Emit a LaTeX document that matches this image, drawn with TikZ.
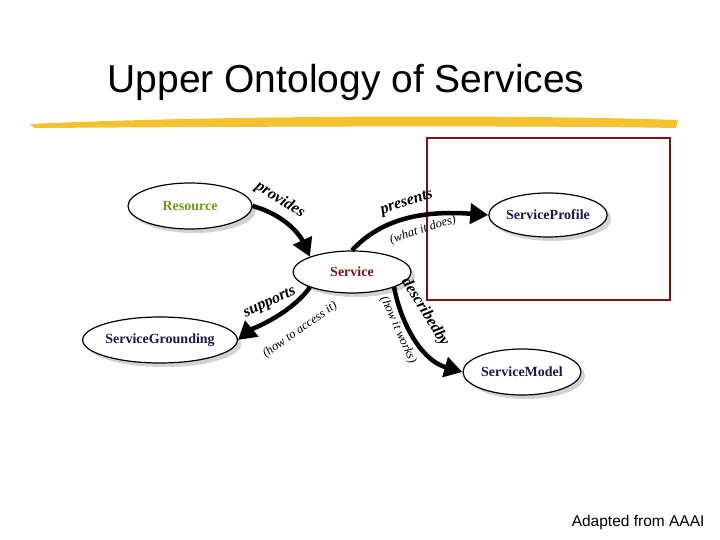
\documentclass[tikz,border=0pt]{standalone}
\usepackage{fontspec}
\setmainfont{Liberation Serif}
\newfontfamily\titlefont{Liberation Sans}
\usetikzlibrary{shapes.geometric,arrows.meta,shadows}
\definecolor{darkred}{HTML}{7A1414}
\definecolor{navy}{HTML}{1E1450}
\definecolor{resgreen}{HTML}{6A9A1E}
\definecolor{brush}{HTML}{F2C230}
\begin{document}
\begin{tikzpicture}[x=1pt,y=-1pt,
  ell/.style={ellipse,draw,line width=1.2pt,fill=white,font=\bfseries\fontsize{14}{16}\selectfont,inner sep=0pt,
     drop shadow={shadow xshift=4pt,shadow yshift=-4pt,fill=black!35}},
  rel/.style={line width=4.5pt,-{Triangle[length=18pt,width=20pt]}},
  lab/.style={font=\itshape\bfseries\fontsize{16}{18}\selectfont,inner sep=0pt},
  sub/.style={font=\itshape\fontsize{12.5}{14}\selectfont,inner sep=0pt}]
\useasboundingbox (0,0) rectangle (720,540);
\node[font=\titlefont\fontsize{39}{44}\selectfont,anchor=west] (title) at (104,82) {Upper Ontology of Services};
\fill[brush] (30,124) .. controls (200,116) and (500,114) .. (678,120) -- (676,128) .. controls (500,125) and (200,127) .. (34,128) -- cycle;
\draw[darkred,line width=2pt] (427,138) rectangle (670,300);
\node[ell,minimum width=124pt,minimum height=46pt,text=resgreen] (res) at (190,206) {Resource};
\node[ell,minimum width=118pt,minimum height=42pt,text=darkred] (svc) at (352,272) {Service};
\node[ell,minimum width=118pt,minimum height=44pt,text=navy] (prof) at (548,215) {ServiceProfile};
\node[ell,minimum width=124pt,minimum height=46pt,text=navy] (gr) at (160,340) {ServiceGrounding};
\node[ell,minimum width=118pt,minimum height=46pt,text=navy] (mod) at (522,372) {ServiceModel};
\draw[rel] (res.east) .. controls (285,215) and (300,235) .. (svc.north west);
\draw[rel] (svc.north) .. controls (380,220) and (420,210) .. (prof.west);
\draw[rel] (svc.south west) .. controls (290,315) and (250,330) .. (gr.east);
\draw[rel] (svc.south east) .. controls (400,320) and (420,360) .. (mod.west);
\node[lab,rotate=-32] (l1) at (280,200) {provides};
\node[lab,rotate=18] (l2) at (407,203) {presents};
\node[sub,rotate=18] (s2) at (423,230) {(what it does)};
\node[lab,rotate=25] (l3) at (270,303) {supports};
\node[sub,rotate=35] (s3) at (300,330) {(how to access it)};
\node[lab,rotate=-58] (l4) at (425,312) {describedby};
\node[sub,rotate=-66] (s4) at (398,330) {(how it works)};
\node[font=\titlefont\fontsize{15.5}{18}\selectfont,anchor=east] (ad) at (708,522) {Adapted from AAAI};
\end{tikzpicture}
\end{document}
